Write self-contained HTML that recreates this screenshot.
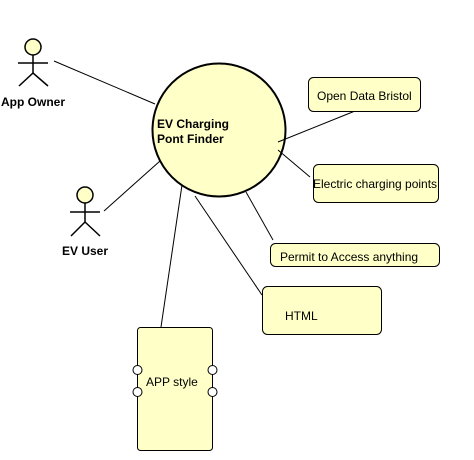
<!DOCTYPE html>
<html><head><style>body{margin:0;background:#fff}svg{display:block}text{font-family:"Liberation Sans",Arial,sans-serif;font-size:12px}</style></head><body>
<svg width="474" height="460" xmlns="http://www.w3.org/2000/svg">
<circle cx="219" cy="130" r="66.5" fill="#ffffc8" stroke="#000" stroke-width="2"/>
<g stroke="#000" stroke-width="1" fill="none">
<line x1="54" y1="61" x2="155" y2="104"/>
<line x1="104" y1="211" x2="160" y2="161"/>
<line x1="278" y1="142" x2="355" y2="111"/>
<line x1="278" y1="150" x2="310" y2="177"/>
<line x1="246" y1="192" x2="273" y2="240"/>
<line x1="195" y1="196" x2="262" y2="295"/>
<line x1="182" y1="185" x2="161" y2="327"/>
</g>
<text x="157" y="128" font-weight="bold">EV Charging</text>
<text x="157" y="143" font-weight="bold">Pont Finder</text>
<g fill="#ffffc8" stroke="#000" stroke-width="1">
<rect x="308.5" y="77.5" width="112" height="34" rx="5"/>
<rect x="313.5" y="164.5" width="125" height="38" rx="5"/>
<rect x="270.5" y="243.5" width="169" height="23" rx="5"/>
<rect x="262.5" y="286.5" width="119" height="48" rx="5"/>
<rect x="137.5" y="327.5" width="75" height="123" rx="3"/>
<circle cx="137.5" cy="370" r="4.5" fill="#fff"/><circle cx="137.5" cy="392" r="4.5" fill="#fff"/>
<circle cx="212.5" cy="370" r="4.5" fill="#fff"/><circle cx="212.5" cy="392" r="4.5" fill="#fff"/>
</g>
<text x="317" y="100">Open Data Bristol</text>
<text x="313" y="188">Electric charging points</text>
<text x="280" y="261">Permit to Access anything</text>
<text x="285" y="320">HTML</text>
<text x="146" y="386">APP style</text>
<g stroke="#000" stroke-width="1.5" fill="#ffffc8">
<circle cx="33" cy="47" r="8"/>
<line x1="33" y1="55" x2="33" y2="73"/><line x1="18" y1="63" x2="48" y2="63"/>
<polyline fill="none" points="19,86 33,73 48,86"/>
<circle cx="85" cy="195" r="8"/>
<line x1="85" y1="203" x2="85" y2="222"/><line x1="70" y1="212" x2="100" y2="212"/>
<polyline fill="none" points="71,236 85,222 100,236"/>
</g>
<text x="1" y="106" font-weight="bold">App Owner</text>
<text x="62" y="255" font-weight="bold">EV User</text>
</svg>
</body></html>
